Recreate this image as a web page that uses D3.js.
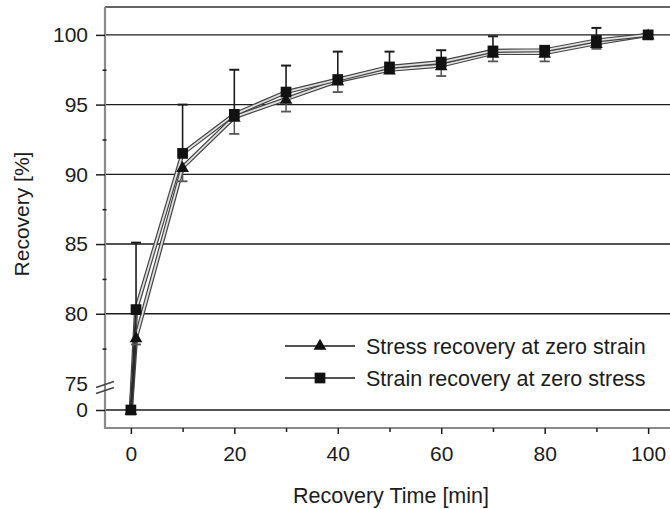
<!DOCTYPE html>
<html>
<head>
<meta charset="utf-8">
<script src="https://cdn.jsdelivr.net/npm/d3@7"></script>
<style>
  html, body { margin: 0; padding: 0; background: #fff; }
  svg { display: block; font-family: "Liberation Sans", Arial, sans-serif; }
</style>
</head>
<body>
<svg id="chart" width="670" height="509"></svg>
<script>
// ---- data ----
const times = [0, 1, 10, 20, 30, 40, 50, 60, 70, 80, 90, 100];
const stressRecovery = [0, 78.3, 90.5, 94.1, 95.4, 96.7, 97.5, 97.8, 98.7, 98.7, 99.4, 100];
const stressErrDown  = [0, 0.5, 1.0, 1.2, 0.9, 0.8, 0.25, 0.75, 0.6, 0.6, 0.4, 0];
const strainRecovery = [0, 80.3, 91.5, 94.3, 95.9, 96.8, 97.7, 98.05, 98.85, 98.9, 99.6, 100];
const strainErrUp    = [0, 4.8, 3.5, 3.2, 1.9, 2.0, 1.1, 0.85, 1.05, 0.2, 0.9, 0];
const xTicks = [0, 20, 40, 60, 80, 100];
const xMinorTicks = [10, 30, 50, 70, 90];
const yTicks = [0, 80, 85, 90, 95, 100];
const yMinorTicks = [77.5, 82.5, 87.5, 92.5, 97.5];
const yBreakLabel = 75;
const seriesNames = ["Stress recovery at zero strain", "Strain recovery at zero stress"];
const xLabel = "Recovery Time [min]";
const yLabel = "Recovery [%]";

// ---- layout ----
const svg = d3.select("#chart");
const mLeft = 105, mRight = 674, mTop = 7, mBottom = 428;
const x = d3.scaleLinear().domain([-5, 105]).range([mLeft, mRight]);
// broken axis: 0 placed below 75
const y = d3.scaleLinear().domain([-1.3, 0, 75, 102]).range([mBottom, 410, 383.5, mTop]);
const ink = "#1c1c1c";
const fs = 21;

// gridlines
svg.append("g").selectAll("line").data(yTicks).join("line")
  .attr("x1", mLeft).attr("x2", 670)
  .attr("y1", d => y(d)).attr("y2", d => y(d))
  .attr("stroke", ink).attr("stroke-width", 1.4);
// top frame
svg.append("line").attr("x1", mLeft).attr("x2", 670).attr("y1", mTop).attr("y2", mTop)
  .attr("stroke", "#333").attr("stroke-width", 1.6);

// axes lines
svg.append("line").attr("x1", mLeft).attr("x2", mLeft).attr("y1", mTop).attr("y2", mBottom + 1)
  .attr("stroke", "#8a8a8a").attr("stroke-width", 2.2);
svg.append("line").attr("x1", mLeft - 1).attr("x2", 670).attr("y1", mBottom).attr("y2", mBottom)
  .attr("stroke", "#8a8a8a").attr("stroke-width", 2.2);

// x axis ticks
const xAxis = d3.axisBottom(x).tickValues(xTicks).tickSize(6).tickPadding(12).tickFormat(d3.format("d"));
const gx = svg.append("g").attr("transform", `translate(0,${mBottom})`).call(xAxis);
gx.select(".domain").remove();
gx.selectAll(".tick line").attr("stroke", ink).attr("stroke-width", 1.5);
gx.selectAll(".tick text").attr("fill", ink).attr("font-size", fs).attr("font-family", "Liberation Sans, Arial, sans-serif");
const gxm = svg.append("g").attr("transform", `translate(0,${mBottom})`)
  .call(d3.axisBottom(x).tickValues(xMinorTicks).tickSize(4).tickFormat(""));
gxm.select(".domain").remove();
gxm.selectAll(".tick line").attr("stroke", ink).attr("stroke-width", 1.5);

// y axis ticks
const yAxis = d3.axisLeft(y).tickValues(yTicks).tickSize(9).tickPadding(8).tickFormat(d3.format("d"));
const gy = svg.append("g").attr("transform", `translate(${mLeft},0)`).call(yAxis);
gy.select(".domain").remove();
gy.selectAll(".tick line").attr("stroke", ink).attr("stroke-width", 1.5);
gy.selectAll(".tick text").attr("fill", ink).attr("font-size", fs).attr("font-family", "Liberation Sans, Arial, sans-serif");
const gym = svg.append("g").attr("transform", `translate(${mLeft + 1.5},0)`)
  .call(d3.axisLeft(y).tickValues(yMinorTicks).tickSize(4).tickFormat(""));
gym.select(".domain").remove();
gym.selectAll(".tick line").attr("stroke", ink).attr("stroke-width", 1.5);

// break label and marks
svg.append("text").attr("x", mLeft - 17).attr("y", y(yBreakLabel)).attr("dy", "0.35em")
  .attr("text-anchor", "end").attr("font-size", fs).attr("fill", ink).text(yBreakLabel);
const by = y(yBreakLabel) + 4;
[-3, 3].forEach(o => {
  svg.append("line").attr("x1", mLeft - 9).attr("x2", mLeft + 9)
    .attr("y1", by + o + 3).attr("y2", by + o - 3)
    .attr("stroke", "#444").attr("stroke-width", 1.4);
});

// axis labels
svg.append("text").attr("x", 391).attr("y", 495).attr("dy", "0.35em")
  .attr("text-anchor", "middle").attr("font-size", 21.5).attr("fill", ink).text(xLabel);
svg.append("text").attr("transform", "translate(22,214) rotate(-90)").attr("dy", "0.35em")
  .attr("text-anchor", "middle").attr("font-size", 21).attr("fill", ink).text(yLabel);

// series lines (hollow double-line look)
const line = d3.line().x(d => x(d[0])).y(d => y(d[1]));
const stressPts = times.map((t, i) => [t, stressRecovery[i]]);
const strainPts = times.map((t, i) => [t, strainRecovery[i]]);
[stressPts, strainPts].forEach(pts => {
  svg.append("path").attr("d", line(pts)).attr("fill", "none")
    .attr("stroke", "#444").attr("stroke-width", 4.2).attr("stroke-linejoin", "round");
  svg.append("path").attr("d", line(pts)).attr("fill", "none")
    .attr("stroke", "#e0e0e0").attr("stroke-width", 1.8).attr("stroke-linejoin", "round");
});
// segment 0 -> 1 is solid
[stressPts, strainPts].forEach(pts => {
  svg.append("path").attr("d", line(pts.slice(0, 2))).attr("fill", "none")
    .attr("stroke", "#2a2a2a").attr("stroke-width", 2);
});

// error bars: stress downward (grey), strain upward (black)
const eb = svg.append("g");
times.forEach((t, i) => {
  if (stressErrDown[i] > 0) {
    const y0 = y(stressRecovery[i]), y1 = y(stressRecovery[i] - stressErrDown[i]);
    eb.append("line").attr("x1", x(t)).attr("x2", x(t)).attr("y1", y0).attr("y2", y1)
      .attr("stroke", "#555").attr("stroke-width", 1.5);
    eb.append("line").attr("x1", x(t) - 5).attr("x2", x(t) + 5).attr("y1", y1).attr("y2", y1)
      .attr("stroke", "#555").attr("stroke-width", 1.8);
  }
  if (strainErrUp[i] > 0) {
    const y0 = y(strainRecovery[i]), y1 = y(strainRecovery[i] + strainErrUp[i]);
    eb.append("line").attr("x1", x(t)).attr("x2", x(t)).attr("y1", y0).attr("y2", y1)
      .attr("stroke", ink).attr("stroke-width", 1.6);
    eb.append("line").attr("x1", x(t) - 5).attr("x2", x(t) + 5).attr("y1", y1).attr("y2", y1)
      .attr("stroke", ink).attr("stroke-width", 2);
  }
});

// markers
const tri = d3.symbol().type(d3.symbolTriangle).size(70);
const sq = d3.symbol().type(d3.symbolSquare).size(115);
svg.append("g").selectAll("path").data(stressPts).join("path")
  .attr("d", tri).attr("transform", d => `translate(${x(d[0])},${y(d[1]) + 1})`).attr("fill", "#111");
svg.append("g").selectAll("path").data(strainPts).join("path")
  .attr("d", sq).attr("transform", d => `translate(${x(d[0])},${y(d[1])})`).attr("fill", "#111");

// legend
const legend = svg.append("g");
const legRows = [{ name: seriesNames[0], sym: tri, yy: 346 }, { name: seriesNames[1], sym: sq, yy: 378 }];
legRows.forEach(r => {
  legend.append("line").attr("x1", 285).attr("x2", 355).attr("y1", r.yy).attr("y2", r.yy)
    .attr("stroke", ink).attr("stroke-width", 1.5);
  legend.append("path").attr("d", r.sym).attr("transform", `translate(320,${r.yy})`).attr("fill", "#111");
  legend.append("text").attr("x", 366).attr("y", r.yy).attr("dy", "0.35em")
    .attr("font-size", 21.5).attr("fill", ink).text(r.name);
});
</script>
</body>
</html>
